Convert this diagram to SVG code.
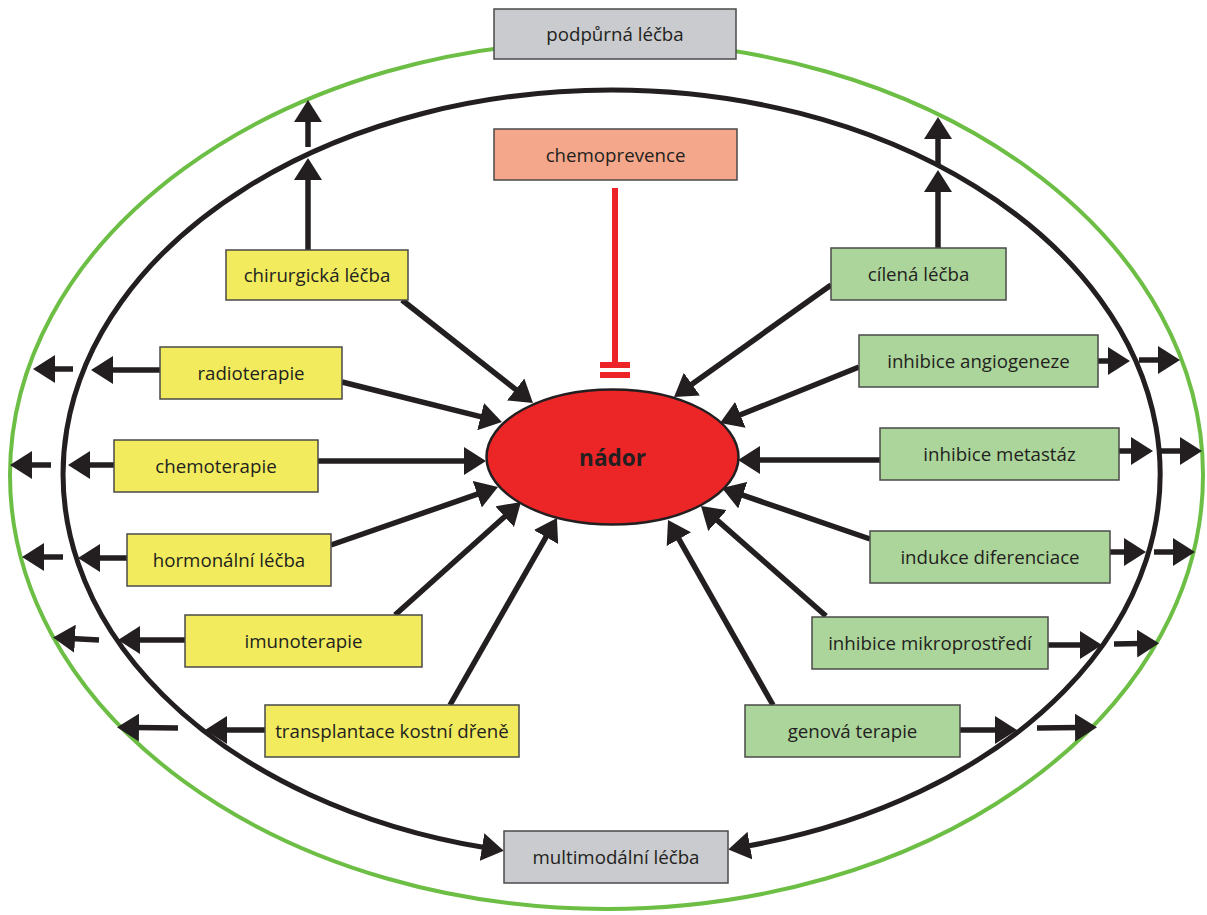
<svg xmlns="http://www.w3.org/2000/svg" width="1207" height="915" viewBox="0 0 1207 915">
<style>
.box{stroke:#4a4a4a;stroke-width:1.5}
.yel{fill:#f1eb5d}
.grn{fill:#acd59b}
.gry{fill:#c9cbce}
.sal{fill:#f4a78a}
.t{font-family:"Open Sans","Liberation Sans",sans-serif;font-size:18.7px;fill:#231f20;text-anchor:middle}
.c{fill:none;stroke:#231f20;stroke-width:5.5;marker-end:url(#ah)}
</style>
<defs>
<marker id="ah" markerUnits="userSpaceOnUse" viewBox="0 0 22 28" markerWidth="22" markerHeight="28" refX="4" refY="14" orient="auto-start-reverse">
<path d="M0,0 L22,14 L0,28 z" fill="#231f20"/>
</marker>
</defs>
<rect width="1207" height="915" fill="#ffffff"/>
<g id="rings">
<ellipse cx="606.5" cy="475" rx="596.5" ry="434" fill="none" stroke="#6dbe45" stroke-width="4"/>
<path d="M746,846.3 A548.5,384 0 0 0 611.5,90 A548.5,384 0 0 0 486,847.8" fill="none" stroke="#231f20" stroke-width="5" marker-start="url(#ah)" marker-end="url(#ah)"/>
</g>
<g id="connectors">
<path class="c" d="M402,300 L518.8,391.9"/>
<path class="c" d="M342,382 L484.5,417.6"/>
<path class="c" d="M318,461 L468,461"/>
<path class="c" d="M331,545 L481,492.9"/>
<path class="c" d="M395,615 L507.6,514"/>
<path class="c" d="M450,705 L548,533.6"/>
<path class="c" d="M831,285 L688.7,386.5"/>
<path class="c" d="M859,367 L736.7,416.3"/>
<path class="c" d="M880,460 L756,460"/>
<path class="c" d="M870,539 L739,493.9"/>
<path class="c" d="M826,616 L714.5,517.9"/>
<path class="c" d="M773,705 L676.9,535.7"/>
<path class="c" d="M308,250 L308,176"/>
<path class="c" d="M308,147 L308,118"/>
<path class="c" d="M938,248 L938,188"/>
<path class="c" d="M938,164 L938,135"/>
<path class="c" d="M160,370 L109,370"/>
<path class="c" d="M73,369 L51,369"/>
<path class="c" d="M114,465 L86,465"/>
<path class="c" d="M51,465 L28,465"/>
<path class="c" d="M127,558 L96,558"/>
<path class="c" d="M63,557 L40,557"/>
<path class="c" d="M185,640 L136,640"/>
<path class="c" d="M99,640 L71,638.5"/>
<path class="c" d="M265,730 L223,730"/>
<path class="c" d="M178,728 L135,727.5"/>
<path class="c" d="M1098,361 L1112,361"/>
<path class="c" d="M1139,360 L1162,360"/>
<path class="c" d="M1119,451 L1135,451"/>
<path class="c" d="M1161,451 L1184,451"/>
<path class="c" d="M1110,552 L1128,552"/>
<path class="c" d="M1154,552 L1177,552"/>
<path class="c" d="M1048,645 L1084,645"/>
<path class="c" d="M1114,644 L1141,643.5"/>
<path class="c" d="M960,730 L999,730"/>
<path class="c" d="M1037,728 L1079,727.5"/>
<g id="inhibition" fill="#ec2427">
<rect x="612" y="188" width="6" height="174"/>
<rect x="600" y="362" width="30" height="6"/>
<rect x="600" y="372" width="30" height="6"/>
</g>
</g>
<g id="podpurna"><rect class="box gry" x="494" y="9" width="242" height="50"/><text class="t" x="615" y="41">podpůrná léčba</text></g>
<g id="chemoprevence"><rect class="box sal" x="494" y="129" width="243" height="51"/><text class="t" x="615.5" y="161.5">chemoprevence</text></g>
<g id="chirurgicka"><rect class="box yel" x="226" y="250" width="182" height="50"/><text class="t" x="317" y="282">chirurgická léčba</text></g>
<g id="radioterapie"><rect class="box yel" x="160" y="347" width="182" height="52"/><text class="t" x="251" y="380">radioterapie</text></g>
<g id="chemoterapie"><rect class="box yel" x="114" y="440" width="204" height="52"/><text class="t" x="216" y="473">chemoterapie</text></g>
<g id="hormonalni"><rect class="box yel" x="127" y="534" width="204" height="52"/><text class="t" x="229" y="567">hormonální léčba</text></g>
<g id="imunoterapie"><rect class="box yel" x="185" y="615" width="237" height="52"/><text class="t" x="303.5" y="648">imunoterapie</text></g>
<g id="transplantace"><rect class="box yel" x="265" y="705" width="254" height="52"/><text class="t" x="392" y="738">transplantace kostní dřeně</text></g>
<g id="cilena"><rect class="box grn" x="831" y="248" width="175" height="52"/><text class="t" x="918.5" y="281">cílená léčba</text></g>
<g id="angiogeneze"><rect class="box grn" x="859" y="335" width="239" height="52"/><text class="t" x="978.5" y="368">inhibice angiogeneze</text></g>
<g id="metastaz"><rect class="box grn" x="880" y="428" width="239" height="52"/><text class="t" x="999.5" y="461">inhibice metastáz</text></g>
<g id="diferenciace"><rect class="box grn" x="870" y="531" width="240" height="52"/><text class="t" x="990" y="564">indukce diferenciace</text></g>
<g id="mikroprostredi"><rect class="box grn" x="812" y="617" width="236" height="52"/><text class="t" x="930" y="650">inhibice mikroprostředí</text></g>
<g id="genova"><rect class="box grn" x="745" y="705" width="215" height="52"/><text class="t" x="852.5" y="738">genová terapie</text></g>
<g id="multimodalni"><rect class="box gry" x="504" y="831" width="224" height="52"/><text class="t" x="616" y="864">multimodální léčba</text></g>
<g id="nador"><ellipse cx="612.5" cy="457" rx="126" ry="67.5" fill="#ec2527" stroke="#231f20" stroke-width="2.5"/><text x="612.5" y="466" font-family="'Open Sans','Liberation Sans',sans-serif" font-size="22.5" font-weight="bold" fill="#231f20" text-anchor="middle">nádor</text></g>
</svg>
